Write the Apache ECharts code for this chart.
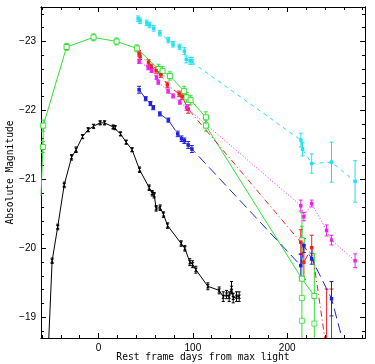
<!DOCTYPE html>
<html><head><meta charset="utf-8">
<script src="https://cdn.jsdelivr.net/npm/echarts@6/dist/echarts.min.js"></script>
<style>html,body{margin:0;padding:0;background:#fff}#c{width:375px;height:364px}</style>
</head><body><div id="c"></div>
<script>
// ---- axis ranges / ticks ----
const xMin = -61, xMax = 282.5;
const yMin = -23.5, yMax = -18.7;
const xMajorTicks = [0, 100, 200];
const xMinorTicks = [-60,-40,-20,20,40,60,80,120,140,160,180,220,240,260,280];
const yMajorTicks = [-23, -22, -21, -20, -19];
const yMinorTicks = [-23.4,-23.2,-22.8,-22.6,-22.4,-22.2,-21.8,-21.6,-21.4,-21.2,-20.8,-20.6,-20.4,-20.2,-19.8,-19.6,-19.4,-19.2,-18.8];

// ---- black ----
const blackDays = [-54,-49.2,-43.3,-36.4,-28.6,-23.8,-17.0,-11.0,-5.3,1.7,6.4,15.5,17.6,23.3,29.3,35.6,43.5,53.7,56.9,59.0,61.1,65.3,68.9,73.2,87.6,91.5,96.8,99.7,103.2,115.9,127.9,132.2,135.7,138.5,141,142.8,146.3,149.1];
const blackMags = [-18.3,-19.82,-20.31,-20.92,-21.32,-21.43,-21.62,-21.72,-21.77,-21.82,-21.82,-21.76,-21.75,-21.66,-21.54,-21.43,-21.14,-20.88,-20.80,-20.77,-20.58,-20.59,-20.49,-20.33,-20.07,-20.00,-19.80,-19.77,-19.69,-19.45,-19.39,-19.30,-19.33,-19.30,-19.43,-19.28,-19.30,-19.30];
const blackErrs = [0,0.04,0.04,0.04,0.04,0.04,0.03,0.03,0.03,0.03,0.03,0.03,0.03,0.03,0.03,0.03,0.04,0.04,0.04,0.04,0.04,0.04,0.04,0.04,0.04,0.04,0.05,0.05,0.05,0.05,0.05,0.07,0.06,0.07,0.09,0.07,0.07,0.07];

// ---- green ----
const greenDays = [-62,-59,-58.6,-33.9,-5.3,19.1,40.6,63.6,67.9,75.6,90.8,93.3,97.6,113.8,113.8,215.6,228.8];
const greenMags = [-20.4,-21.47,-21.78,-22.92,-23.06,-23.0,-22.90,-22.60,-22.57,-22.50,-22.28,-22.19,-22.15,-21.90,-21.78,-19.56,-19.31];
const greenErrs = [0,0.08,0.08,0.05,0.05,0.05,0.05,0.07,0.07,0.06,0.07,0.07,0.07,0.08,0.08,0,0];
const greenExtraDays = [215.6,215.6,215.6,228.8];
const greenExtraMags = [-20.12,-19.28,-18.95,-18.91];
const greenExtraErrs = [0.2,0,0,0];
const greenLimitDays = [215.6, 228.8];
const greenLimitTops = [-20.52, -19.92];

// ---- cyan ----
const cyanDays = [42,44,51,54,58.5,65,74,79,86,91,93,97,99,214.5,216.3,226,247,272];
const cyanMags = [-23.33,-23.30,-23.27,-23.24,-23.19,-23.12,-23.02,-22.96,-22.92,-22.86,-22.74,-22.72,-22.72,-21.57,-21.44,-21.23,-21.25,-20.97];
const cyanErrs = [0.04,0.04,0.04,0.04,0.04,0.04,0.04,0.04,0.04,0.05,0.05,0.05,0.05,0.1,0.1,0.14,0.29,0.3];

// ---- red ----
const redDays = [43,44,53,56,61,66,73,85.5,88.6,95,214.4,217.7,226,242];
const redMags = [-22.83,-22.78,-22.70,-22.63,-22.58,-22.52,-22.37,-22.24,-22.20,-22.02,-20.09,-19.80,-20.01,-18.5];
const redErrs = [0.04,0.04,0.04,0.04,0.04,0.04,0.04,0.04,0.04,0.06,0.18,0.25,0.18,0];
const redLimitDays = [241.8, 247];
const redLimitTops = [-19.41, -19.41];

// ---- magenta ----
const magDays = [43,52.6,56.2,61.5,63.3,73.8,79,86.2,93.3,214.4,217.7,226,241.8,247,272];
const magMags = [-22.71,-22.62,-22.58,-22.48,-22.41,-22.28,-22.21,-22.12,-22.04,-20.62,-20.46,-20.65,-20.26,-20.12,-19.82];
const magErrs = [0.03,0.03,0.03,0.03,0.03,0.03,0.03,0.03,0.04,0.08,0.06,0.05,0.08,0.07,0.1];

// ---- blue ----
const blueDays = [43,50,55,58,65,74,84,88,91,95,99,214.4,217.7,226,247,262];
const blueMags = [-22.30,-22.17,-22.10,-22.04,-21.95,-21.86,-21.66,-21.59,-21.56,-21.50,-21.44,-19.75,-20.04,-19.85,-19.27,-18.5];
const blueErrs = [0.05,0.03,0.03,0.03,0.03,0.03,0.04,0.04,0.04,0.05,0.05,0.17,0.1,0.08,0.25,0];

const C = {black:'#000000', green:'#33e033', cyan:'#22e0ee', red:'#ee2020', mag:'#ee22ee', blue:'#2020dd'};

function pairs(d, m){ return d.map((v,i)=>[v, m[i]]); }
function inside(p){ return p[0]>=xMin && p[0]<=xMax && p[1]>=yMin && p[1]<=yMax; }
// point where segment a(inside)->b(outside) leaves the plot box
function exitPoint(a, b){
  let t = 1;
  const dx = b[0]-a[0], dy = b[1]-a[1];
  if (b[0] < xMin) t = Math.min(t, (xMin-a[0])/dx);
  if (b[0] > xMax) t = Math.min(t, (xMax-a[0])/dx);
  if (b[1] < yMin) t = Math.min(t, (yMin-a[1])/dy);
  if (b[1] > yMax) t = Math.min(t, (yMax-a[1])/dy);
  return [a[0]+t*dx, a[1]+t*dy];
}
function clippedData(days, mags){
  const pts = pairs(days, mags), out = [];
  pts.forEach((p,i)=>{
    const prev = pts[i-1];
    if (inside(p)) {
      if (prev && !inside(prev)) out.push({value: exitPoint(p, prev), symbol:'none'});
      out.push(p);
    } else if (prev && inside(prev)) {
      out.push({value: exitPoint(prev, p), symbol:'none'});
    }
  });
  return out;
}

function lineSeries(name, days, mags, color, type, symbol, size, hollow){
  return {
    name, type:'line', xAxisIndex:0, yAxisIndex:0, data:clippedData(days,mags),
    symbol, symbolSize:size, showSymbol:true, clip:true, animation:false, z:4,
    lineStyle:{color, width:1, type},
    itemStyle: hollow ? {color:'#ffffff', borderColor:color, borderWidth:1} : {color, borderColor:color, borderWidth:0}
  };
}
function scatterSeries(days, mags, color, symbol, size, hollow){
  return {type:'scatter', xAxisIndex:0, yAxisIndex:0, data:pairs(days,mags), symbol, symbolSize:size, animation:false, z:4,
    itemStyle: hollow ? {color:'#ffffff', borderColor:color, borderWidth:1} : {color}};
}
function errSeries(days, mags, errs, color, capW){
  const data = [];
  days.forEach((d,i)=>{ if (errs[i] > 0) data.push([d, mags[i]-errs[i], mags[i]+errs[i]]); });
  return {type:'custom', xAxisIndex:0, yAxisIndex:0, data, animation:false, silent:true, z:3, clip:true,
    encode:{x:0, y:[1,2]},
    renderItem(params, api){
      const x = api.value(0);
      const a = api.coord([x, api.value(1)]), b = api.coord([x, api.value(2)]);
      const st = {stroke:color, lineWidth:1};
      return {type:'group', children:[
        {type:'line', shape:{x1:a[0],y1:a[1],x2:b[0],y2:b[1]}, style:st},
        {type:'line', shape:{x1:a[0]-capW,y1:a[1],x2:a[0]+capW,y2:a[1]}, style:st},
        {type:'line', shape:{x1:b[0]-capW,y1:b[1],x2:b[0]+capW,y2:b[1]}, style:st}
      ]};
    }};
}
function limitSeries(days, tops, color, capW){
  const data = days.map((d,i)=>[d, tops[i], yMax]);
  return {type:'custom', xAxisIndex:0, yAxisIndex:0, data, animation:false, silent:true, z:3, clip:true,
    encode:{x:0, y:[1,2]},
    renderItem(params, api){
      const x = api.value(0);
      const a = api.coord([x, api.value(1)]), b = api.coord([x, api.value(2)]);
      const st = {stroke:color, lineWidth:1};
      return {type:'group', children:[
        {type:'line', shape:{x1:a[0],y1:a[1],x2:b[0],y2:b[1]}, style:st},
        {type:'line', shape:{x1:a[0]-capW,y1:a[1],x2:a[0]+capW,y2:a[1]}, style:st}
      ]};
    }};
}

const hourglass = 'path://M0,0 L10,0 L0,10 L10,10 Z';
const fontTick = {color:'#000', fontFamily:'Liberation Sans', fontSize:10};
const nameStyle = {color:'#000', fontFamily:'DejaVu Sans Mono', fontSize:9.6};

function xAx(pos, ticks, len, labels, name){
  return {type:'value', position:pos, min:xMin, max:xMax,
    axisLine:{show:true, onZero:false, lineStyle:{color:'#000', width:1}},
    axisTick:{show:true, inside:true, length:len, customValues:ticks, lineStyle:{color:'#000'}},
    axisLabel: labels ? {show:true, customValues:ticks, margin:5, ...fontTick} : {show:false},
    splitLine:{show:false}, name: name||'', nameLocation:'middle', nameGap:14, nameMoveOverlap:false, nameTextStyle:nameStyle};
}
function yAx(pos, ticks, len, labels, name){
  return {type:'value', position:pos, min:yMin, max:yMax, inverse:true,
    axisLine:{show:true, onZero:false, lineStyle:{color:'#000', width:1}},
    axisTick:{show:true, inside:true, length:len, customValues:ticks, lineStyle:{color:'#000'}},
    axisLabel: labels ? {show:true, customValues:ticks, margin:5, formatter:v=>'\u2212'+Math.abs(v), ...fontTick} : {show:false},
    splitLine:{show:false}, name: name||'', nameLocation:'middle', nameGap:26, nameMoveOverlap:false, nameTextStyle:nameStyle};
}

const option = {
  backgroundColor:'#ffffff',
  animation:false,
  grid:{left:41, right:10, top:7, bottom:26, containLabel:false, outerBoundsMode:'none'},
  xAxis:[
    xAx('bottom', xMajorTicks, 5, true, 'Rest frame days from max light'),
    xAx('bottom', xMinorTicks, 3, false),
    xAx('top', xMajorTicks, 5, false),
    xAx('top', xMinorTicks, 3, false)
  ],
  yAxis:[
    yAx('left', yMajorTicks, 5, true, 'Absolute Magnitude'),
    yAx('left', yMinorTicks, 3, false),
    yAx('right', yMajorTicks, 5, false),
    yAx('right', yMinorTicks, 3, false)
  ],
  series:[
    lineSeries('black', blackDays, blackMags, C.black, 'solid', hourglass, 4, false),
    errSeries(blackDays, blackMags, blackErrs, C.black, 1.5),
    lineSeries('green', greenDays, greenMags, C.green, 'solid', 'rect', 5, true),
    errSeries(greenDays, greenMags, greenErrs, C.green, 2),
    scatterSeries(greenExtraDays, greenExtraMags, C.green, 'rect', 5, true),
    errSeries(greenExtraDays, greenExtraMags, greenExtraErrs, C.green, 2),
    limitSeries(greenLimitDays, greenLimitTops, C.green, 2),
    lineSeries('cyan', cyanDays, cyanMags, C.cyan, [4,4], 'rect', 3.5, false),
    errSeries(cyanDays, cyanMags, cyanErrs, C.cyan, 2),
    lineSeries('red', redDays, redMags, C.red, [6,3,1,3], 'rect', 3.5, false),
    errSeries(redDays, redMags, redErrs, C.red, 2),
    limitSeries(redLimitDays, redLimitTops, C.red, 2),
    lineSeries('magenta', magDays, magMags, C.mag, [1,2], 'rect', 3.5, false),
    errSeries(magDays, magMags, magErrs, C.mag, 2),
    lineSeries('blue', blueDays, blueMags, C.blue, [10,5], 'rect', 3.5, false),
    errSeries(blueDays, blueMags, blueErrs, C.blue, 2)
  ]
};
const chart = echarts.init(document.getElementById('c'), null, {renderer:'canvas'});
chart.setOption(option);
</script>
</body></html>
